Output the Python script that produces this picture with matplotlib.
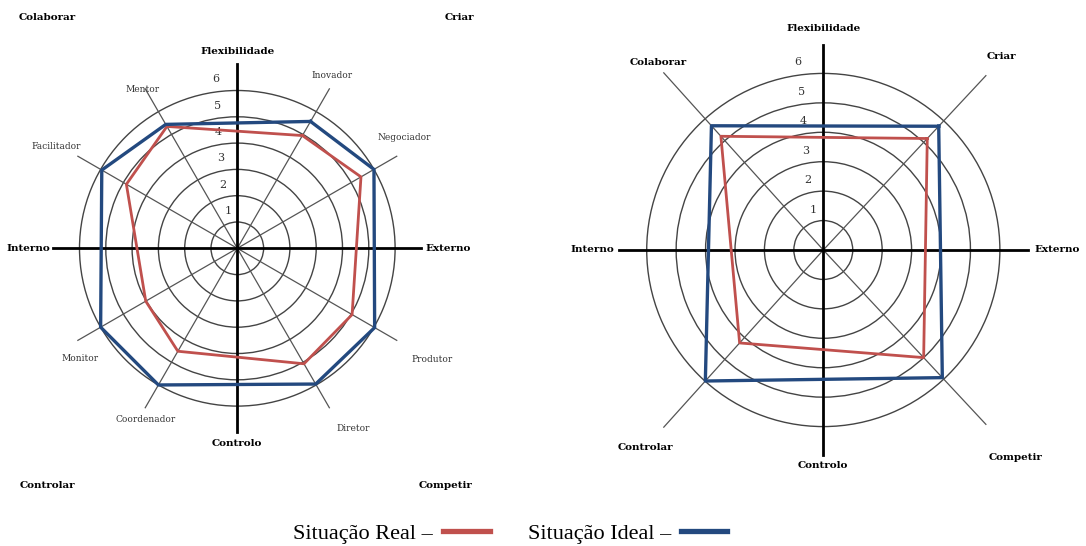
import numpy as np
import matplotlib
matplotlib.use("Agg")
import matplotlib.pyplot as plt
from matplotlib.lines import Line2D

# ---- data ----
roles = ["Inovador", "Negociador", "Produtor", "Diretor",
         "Coordenador", "Monitor", "Facilitador", "Mentor"]
role_angles = [60, 30, -30, -60, -120, -150, 150, 120]
roles_real = [4.95, 5.43, 5.04, 5.07, 4.52, 4.02, 4.87, 5.35]
roles_ideal = [5.57, 6.0, 6.03, 5.96, 6.0, 6.0, 5.95, 5.44]

cultures = ["Criar", "Competir", "Controlar", "Colaborar"]
culture_angles = [47, -47, 228, 132]
cultures_real = [5.18, 5.0, 4.25, 5.2]
cultures_ideal = [5.75, 5.93, 5.99, 5.68]

rings = [1, 2, 3, 4, 5, 6]
dims = ["Externo", "Flexibilidade", "Interno", "Controlo"]
dim_angles = [0, 90, 180, 270]

RED = "#C0504D"
BLUE = "#23497F"
SERIF = ["Cambria", "DejaVu Serif"]

fig = plt.figure(figsize=(10.86, 5.46), dpi=100)
W, H = 1086, 546


def make_ax(cx, cy, scale, rmax):
    rad = rmax * scale
    ax = fig.add_axes([(cx - rad) / W, (H - cy - rad) / H, 2 * rad / W, 2 * rad / H],
                      projection="polar")
    ax.set_ylim(0, rmax)
    ax.set_xticks([])
    ax.set_yticks(rings)
    ax.set_yticklabels([])
    ax.yaxis.grid(True, color="#444444", lw=1.0)
    ax.spines["polar"].set_visible(False)
    ax.patch.set_visible(False)
    return ax


def draw(ax, angles, real, ideal, spoke_len, axis_len, tick_dx):
    th = np.deg2rad(angles)
    for t in th:
        ax.plot([t, t], [0, spoke_len], color="#555555", lw=0.9, zorder=2)
    for a in dim_angles:
        t = np.deg2rad(a)
        ax.plot([t, t], [0, axis_len], color="black", lw=2.0, zorder=3)
    for v, dx in zip(rings, tick_dx):
        ax.annotate(str(v), xy=(np.pi / 2, v), xytext=(dx, 11),
                    textcoords="offset pixels", ha="center", va="center",
                    fontsize=8, family=SERIF, color="#333333", zorder=1)
    tc = np.append(th, th[0])
    ax.plot(tc, np.append(ideal, ideal[0]), color=BLUE, lw=2.4, zorder=5)
    ax.plot(tc, np.append(real, real[0]), color=RED, lw=2.0, zorder=4)


def label(ax, angle, r, text, bold=True, size=7.5):
    ax.text(np.deg2rad(angle), r, text, ha="center", va="center",
            fontsize=size, family=SERIF, fontweight="bold" if bold else "normal",
            color="black" if bold else "#333333", clip_on=False)


# ---- left chart: roles ----
axl = make_ax(237.3, 248.3, 26.3, 8.3)
draw(axl, role_angles, roles_real, roles_ideal, 7.0, 7.0,
     [-9, -14, -17, -19, -20, -21])
left_lbl = [(61.2, 7.48), (33.5, 7.61), (-29.6, 8.53), (-57.2, 8.14),
            (241.9, 7.37), (215.1, 7.32), (150.6, 7.92), (120.8, 7.01)]
for name, (a, r) in zip(roles, left_lbl):
    label(axl, a, r, name, bold=False, size=6.5)
for name, (a, r) in zip(dims, [(0, 8.02), (90, 7.47), (180, 7.93), (270, 7.41)]):
    label(axl, a, r, name)
for name, (x, y) in zip(["Colaborar", "Criar", "Controlar", "Competir"],
                        [(47, 18), (459, 18), (47, 485), (446, 485)]):
    fig.text(x / W, 1 - y / H, name, ha="center", va="center", fontsize=7.5,
             family=SERIF, fontweight="bold")

# ---- right chart: cultures ----
axr = make_ax(823.3, 250.0, 29.43, 8.4)
draw(axr, culture_angles, cultures_real, cultures_ideal, 8.1, 6.95,
     [-10, -15, -18, -20, -22, -25])
right_lbl = [(47.3, 8.94), (-47.3, 9.61), (228, 9.05), (131.3, 8.5)]
for name, (a, r) in zip(cultures, right_lbl):
    label(axr, a, r, name)
for name, (a, r) in zip(dims, [(0, 7.94), (90, 7.51), (180, 7.86), (270, 7.31)]):
    label(axr, a, r, name)

# ---- legend ----
handles = [Line2D([], [], color=RED, lw=3.8), Line2D([], [], color=BLUE, lw=3.8)]
fig.legend(handles, ["Situação Real –", "Situação Ideal –"], loc="center",
           bbox_to_anchor=(0.47, 0.022), ncol=2, frameon=False, markerfirst=False,
           prop={"family": ["Liberation Serif"], "size": 16},
           handlelength=2.1, handletextpad=0.45, columnspacing=1.7)

fig.savefig("out.png", dpi=100)
